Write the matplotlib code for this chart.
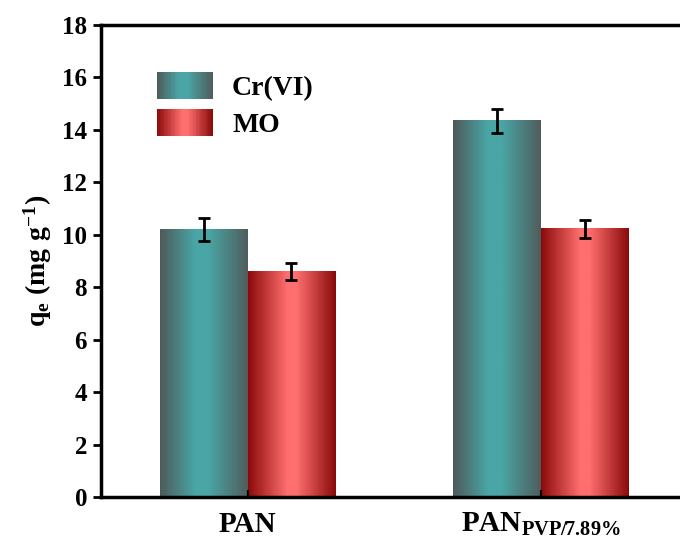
import numpy as np
import matplotlib
matplotlib.use('Agg')
import matplotlib.pyplot as plt
from matplotlib.colors import LinearSegmentedColormap
from matplotlib.legend_handler import HandlerBase
from matplotlib.patches import Rectangle

# data
categories = ['PAN', r'PAN$_{\mathrm{PVP/7.89\%}}$']
series = ['Cr(VI)', 'MO']
cr_vals = [10.2, 14.35]
cr_err = [0.45, 0.46]
mo_vals = [8.6, 10.22]
mo_err = [0.33, 0.35]

plt.rcParams['font.family'] = 'Liberation Serif'
plt.rcParams['font.weight'] = 'bold'
plt.rcParams['mathtext.fontset'] = 'custom'
plt.rcParams['mathtext.rm'] = 'Liberation Serif:bold'
plt.rcParams['mathtext.it'] = 'Liberation Serif:bold'
plt.rcParams['mathtext.bf'] = 'Liberation Serif:bold'

teal = LinearSegmentedColormap.from_list(
    'teal', [(0, '#4e5a5a'), (0.4, '#4aa6a6'), (0.55, '#4aa6a6'), (1, '#505c5c')])
red = LinearSegmentedColormap.from_list(
    'red', [(0, '#8c0a0a'), (0.45, '#ff6f6f'), (0.55, '#ff6f6f'), (1, '#8a0a0a')])
cmaps = [teal, red]


class GradientHandler(HandlerBase):
    def __init__(self, cmap, n=40):
        super().__init__()
        self.cmap = cmap
        self.n = n

    def create_artists(self, legend, orig_handle, xdescent, ydescent,
                       width, height, fontsize, trans):
        arts = []
        w = width / self.n
        for i in range(self.n):
            r = Rectangle((-xdescent + i * w, -ydescent), w * 1.05, height,
                          facecolor=self.cmap((i + 0.5) / self.n),
                          edgecolor='none', transform=trans)
            arts.append(r)
        return arts


fig = plt.figure(figsize=(6.8, 5.42), dpi=100)
ax = fig.add_axes([0.1485, 0.083, 0.862, 0.871])

x = np.arange(1, len(categories) + 1)
width = 0.3
grad = np.linspace(0, 1, 256).reshape(1, -1)
handles = []
for k, (vals, errs) in enumerate([(cr_vals, cr_err), (mo_vals, mo_err)]):
    pos = x + (k - 0.5) * width
    bars = ax.bar(pos, vals, width, color='none', edgecolor='none', zorder=1)
    for b in bars:
        ax.imshow(grad, cmap=cmaps[k], aspect='auto', zorder=1,
                  extent=[b.get_x(), b.get_x() + b.get_width(), 0, b.get_height()])
    ax.errorbar(pos, vals, yerr=errs, fmt='none', ecolor='black',
                elinewidth=2, capsize=4.5, capthick=2, zorder=3)
    handles.append(bars)

ax.set_xlim(0.5, 2.5)
ax.set_ylim(0, 18)
ax.set_yticks(np.arange(0, 19, 2))
ax.set_xticks(x)
ax.set_xticklabels(categories, fontsize=21)
ax.tick_params(axis='y', direction='out', length=6, width=2, labelsize=18, pad=4)
ax.tick_params(axis='x', direction='in', length=5, width=1.5, pad=10)
for s in ax.spines.values():
    s.set_linewidth(2.5)

ax.set_ylabel(r'$\mathrm{q_e\ (mg\ g^{-1})}$', fontsize=20, labelpad=6)

ax.legend(handles, series, loc='upper left', bbox_to_anchor=(0.0956, 0.9),
          frameon=False, fontsize=20, handlelength=2.0, handleheight=1.1,
          labelspacing=0.3, handletextpad=0.7, borderpad=0, borderaxespad=0,
          handler_map={handles[0]: GradientHandler(teal),
                       handles[1]: GradientHandler(red)})

fig.savefig('out.png', dpi=100)
